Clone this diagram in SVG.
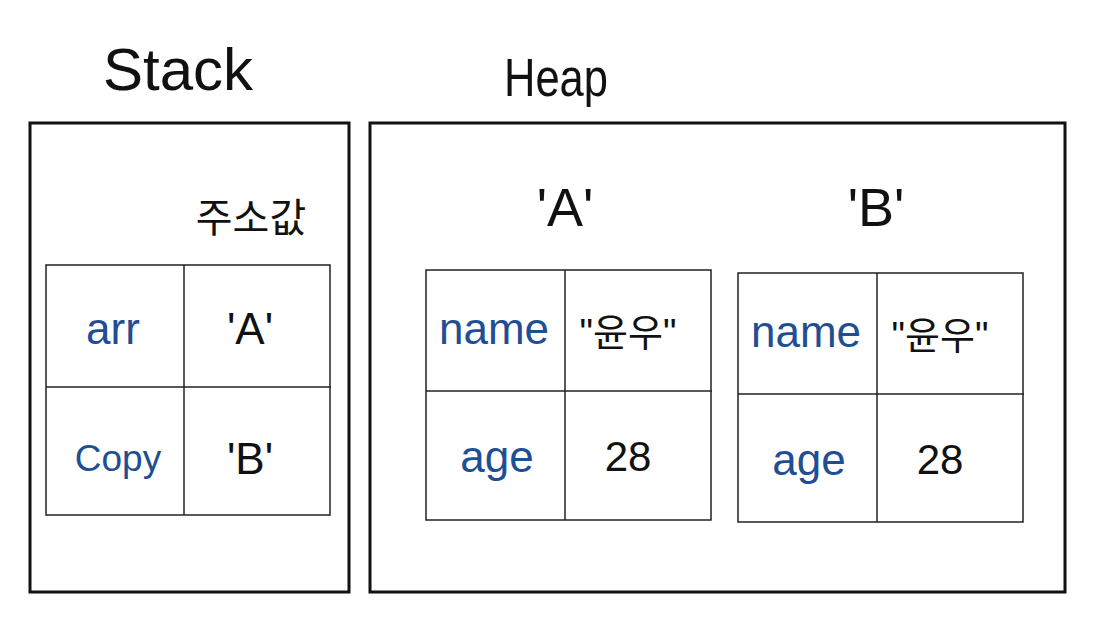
<svg xmlns="http://www.w3.org/2000/svg" width="1099" height="625" viewBox="0 0 1099 625">
  <style>
    .frame { fill: none; stroke: #111; stroke-width: 3; }
    .grid { fill: none; stroke: #222; stroke-width: 1.5; }
    .title { font-family: "Liberation Sans", "Noto Sans CJK KR", sans-serif; fill: #111; text-anchor: middle; }
    .key { font-family: "Liberation Sans", "Noto Sans CJK KR", sans-serif; fill: #1f4e94; text-anchor: middle; dominant-baseline: central; }
    .val { font-family: "Liberation Sans", "Noto Sans CJK KR", sans-serif; fill: #111; text-anchor: middle; dominant-baseline: central; }
  </style>
  <rect width="1099" height="625" fill="#ffffff"/>

  <g id="stack">
    <text class="title" x="178" y="90" font-size="60">Stack</text>
    <rect class="frame" x="30" y="123" width="319" height="469"/>
    <text class="title" x="251" y="232" font-size="40">주소값</text>
    <g id="stack-table">
      <rect class="grid" x="46" y="265" width="284" height="250"/>
      <line class="grid" x1="184" y1="265" x2="184" y2="515"/>
      <line class="grid" x1="46" y1="387" x2="331" y2="387"/>
      <text class="key" x="113" y="328" font-size="44">arr</text>
      <text class="val" x="250" y="328" font-size="44">'A'</text>
      <text class="key" x="118" y="458" font-size="37">Copy</text>
      <text class="val" x="250" y="458" font-size="44">'B'</text>
    </g>
  </g>

  <g id="heap">
    <text class="title" x="556" y="96" font-size="54" textLength="104" lengthAdjust="spacingAndGlyphs">Heap</text>
    <rect class="frame" x="370" y="123" width="695" height="469"/>
  </g>

  <g id="object-a">
    <text class="title" x="565" y="226" font-size="54">'A'</text>
    <rect class="grid" x="426" y="270" width="285" height="250"/>
    <line class="grid" x1="565" y1="270" x2="565" y2="520"/>
    <line class="grid" x1="426" y1="391" x2="712" y2="391"/>
    <text class="key" x="494" y="328" font-size="44">name</text>
    <text class="val" x="628" y="333" font-size="38">"윤우"</text>
    <text class="key" x="497" y="456" font-size="44">age</text>
    <text class="val" x="628" y="456" font-size="42">28</text>
  </g>

  <g id="object-b">
    <text class="title" x="876" y="226" font-size="54">'B'</text>
    <rect class="grid" x="738" y="273" width="285" height="249"/>
    <line class="grid" x1="877" y1="273" x2="877" y2="522"/>
    <line class="grid" x1="738" y1="394" x2="1024" y2="394"/>
    <text class="key" x="806" y="331" font-size="44">name</text>
    <text class="val" x="940" y="336" font-size="38">"윤우"</text>
    <text class="key" x="809" y="459" font-size="44">age</text>
    <text class="val" x="940" y="459" font-size="42">28</text>
  </g>

  <g id="connectors"></g>
</svg>
